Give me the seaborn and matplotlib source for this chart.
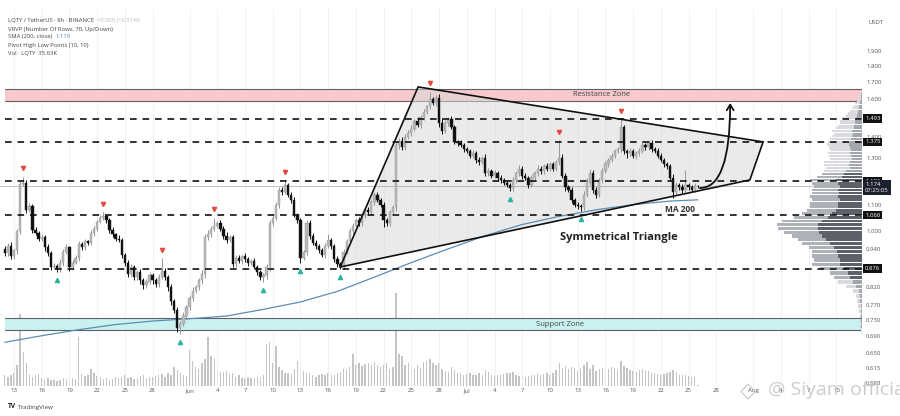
import numpy as np
import pandas as pd
import matplotlib
matplotlib.use("Agg")
import matplotlib.pyplot as plt
import matplotlib.transforms as mtransforms
from matplotlib.patches import Polygon, FancyArrowPatch
from matplotlib.path import Path
import seaborn as sns

# 8h candles, first one on 2025-05-12 00:00 (index 0)
start_day = pd.Timestamp("2025-05-12")
first_open = 0.940

closes = [
    0.925, 0.950, 0.915, 0.935, 1.000, 1.185, 1.190, 1.080, 1.095, 1.005,
    0.995, 0.975, 0.980, 0.945, 0.925, 0.880, 0.885, 0.875, 0.895, 0.930,
    0.945, 0.880, 0.895, 0.910, 0.955, 0.945, 0.965, 0.960, 0.995, 1.010,
    1.035, 1.050, 1.055, 1.040, 1.005, 0.990, 0.975, 0.970, 0.920, 0.895,
    0.860, 0.880, 0.850, 0.865, 0.840, 0.825, 0.835, 0.855, 0.840, 0.830,
    0.850, 0.870, 0.850, 0.820, 0.780, 0.755, 0.710, 0.720, 0.740, 0.765,
    0.790, 0.810, 0.820, 0.840, 0.860, 0.980, 0.990, 1.010, 1.020, 1.030,
    1.010, 0.985, 0.970, 0.980, 0.890, 0.910, 0.900, 0.915, 0.905, 0.895,
    0.900, 0.880, 0.865, 0.850, 0.855, 0.880, 1.030, 1.050, 1.100, 1.160,
    1.150, 1.180, 1.140, 1.120, 1.060, 1.040, 0.910, 0.930, 1.030, 0.985,
    0.960, 0.950, 0.935, 0.920, 0.950, 0.970, 0.950, 0.905, 0.890, 0.885,
    0.930, 0.965, 1.000, 1.020, 1.040, 1.030, 1.060, 1.080, 1.070, 1.110,
    1.140, 1.120, 1.100, 1.040, 1.030, 1.070, 1.090, 1.360, 1.380, 1.350,
    1.400, 1.420, 1.440, 1.480, 1.460, 1.500, 1.530, 1.560, 1.600, 1.580,
    1.610, 1.470, 1.430, 1.470, 1.490, 1.450, 1.375, 1.370, 1.360, 1.340,
    1.330, 1.310, 1.320, 1.290, 1.280, 1.300, 1.230, 1.240, 1.220, 1.230,
    1.210, 1.200, 1.190, 1.180, 1.165, 1.200, 1.230, 1.250, 1.220, 1.210,
    1.180, 1.210, 1.230, 1.250, 1.240, 1.260, 1.250, 1.270, 1.250, 1.280,
    1.300, 1.220, 1.170, 1.160, 1.120, 1.100, 1.095, 1.090, 1.140, 1.190,
    1.230, 1.160, 1.140, 1.200, 1.240, 1.270, 1.290, 1.310, 1.330, 1.340,
    1.450, 1.330, 1.320, 1.330, 1.310, 1.320, 1.330, 1.360, 1.350, 1.370,
    1.340, 1.330, 1.310, 1.290, 1.270, 1.260, 1.210, 1.150, 1.180, 1.170,
    1.160, 1.180, 1.170, 1.160, 1.175, 1.174,
]

# wick lengths beyond the body, in thousandths of a USDT
up_wick = [
    10, 8, 12, 6, 8, 10, 25, 12, 10, 8,
    10, 8, 12, 6, 10, 8, 10, 6, 12, 8,
    10, 6, 8, 10, 12, 8, 10, 6, 10, 8,
    8, 10, 15, 5, 8, 10, 6, 12, 8, 6,
    8, 10, 6, 8, 10, 6, 8, 10, 6, 8,
    10, 40, 8, 6, 8, 6, 10, 8, 10, 6,
    8, 10, 6, 8, 12, 10, 15, 10, 30, 8,
    10, 8, 12, 6, 8, 10, 8, 6, 10, 8,
    8, 10, 6, 8, 6, 10, 12, 15, 10, 12,
    10, 20, 8, 10, 12, 8, 10, 6, 12, 10,
    8, 10, 6, 8, 10, 20, 8, 6, 10, 8,
    10, 8, 12, 10, 8, 12, 10, 8, 12, 10,
    10, 12, 8, 10, 8, 10, 8, 15, 12, 20,
    15, 12, 18, 10, 20, 12, 15, 10, 45, 15,
    15, 20, 25, 18, 15, 20, 12, 10, 15, 10,
    12, 10, 14, 10, 12, 10, 15, 12, 10, 12,
    10, 12, 8, 10, 8, 12, 10, 15, 10, 12,
    10, 12, 10, 15, 12, 10, 14, 10, 12, 10,
    85, 15, 12, 10, 12, 8, 10, 8, 15, 20,
    18, 15, 12, 10, 12, 15, 10, 12, 10, 12,
    40, 12, 10, 15, 12, 10, 15, 20, 12, 15,
    12, 10, 15, 12, 10, 12, 10, 15, 12, 10,
    12, 65, 10, 8, 15, 6,
]
down_wick = [
    10, 8, 10, 8, 12, 10, 8, 12, 10, 12,
    8, 10, 8, 12, 10, 8, 6, 10, 8, 10,
    8, 10, 8, 6, 10, 8, 10, 8, 6, 10,
    8, 6, 10, 8, 12, 10, 8, 6, 10, 12,
    10, 8, 10, 8, 12, 10, 8, 6, 10, 8,
    8, 6, 10, 12, 10, 8, 10, 15, 6, 8,
    10, 8, 6, 8, 10, 12, 10, 8, 10, 6,
    8, 10, 12, 8, 10, 8, 6, 10, 8, 10,
    8, 6, 10, 8, 15, 10, 12, 10, 8, 12,
    10, 8, 10, 12, 8, 10, 15, 8, 10, 12,
    8, 10, 8, 6, 10, 8, 10, 8, 10, 9,
    10, 8, 10, 12, 8, 10, 12, 10, 8, 10,
    12, 10, 8, 25, 10, 12, 10, 15, 20, 15,
    12, 10, 15, 12, 10, 15, 12, 10, 15, 12,
    15, 20, 15, 12, 15, 10, 12, 15, 10, 12,
    10, 12, 10, 14, 12, 10, 12, 10, 12, 10,
    12, 10, 12, 10, 10, 12, 10, 12, 14, 10,
    12, 10, 12, 10, 14, 12, 10, 12, 10, 12,
    15, 12, 14, 10, 12, 10, 12, 15, 12, 10,
    12, 15, 12, 10, 12, 10, 12, 10, 12, 10,
    15, 12, 20, 12, 10, 15, 12, 10, 12, 15,
    12, 10, 12, 10, 12, 10, 15, 25, 12, 10,
    12, 10, 12, 10, 8, 6,
]

# volume in K LQTY
volume = [
    300, 250, 280, 350, 550, 1900, 900, 600, 300, 250,
    280, 320, 220, 180, 200, 150, 160, 130, 170, 200,
    180, 220, 200, 180, 1300, 320, 260, 300, 450, 330,
    260, 250, 180, 200, 160, 180, 230, 210, 250, 300,
    220, 240, 180, 220, 260, 300, 200, 250, 230, 260,
    280, 320, 240, 330, 300, 500, 420, 350, 300, 260,
    950, 650, 500, 450, 600, 700, 1300, 800, 750, 420,
    380, 380, 400, 320, 330, 250, 300, 220, 200, 240,
    200, 210, 230, 250, 300, 1100, 1150, 600, 1050, 500,
    420, 350, 330, 320, 450, 650, 500, 400, 350, 330,
    300, 250, 280, 320, 300, 350, 280, 300, 330, 380,
    450, 420, 500, 850, 550, 600, 520, 580, 600, 560,
    620, 550, 500, 560, 600, 450, 500, 2450, 850, 800,
    560, 600, 500, 450, 550, 480, 620, 650, 700, 600,
    560, 600, 450, 400, 380, 500, 420, 350, 330, 300,
    320, 350, 300, 280, 330, 300, 420, 380, 300, 260,
    280, 300, 320, 350, 330, 380, 300, 260, 280, 250,
    270, 300, 280, 330, 300, 320, 330, 300, 350, 420,
    600, 480, 520, 450, 500, 470, 400, 480, 560, 620,
    450, 560, 400, 450, 480, 420, 450, 500, 470, 430,
    650, 520, 480, 420, 400, 380, 420, 450, 430, 400,
    350, 330, 320, 300, 320, 350, 380, 420, 380, 300,
    280, 300, 260, 250, 240, 36,
]

# SMA(200) at a few candles
ma_idx = [0, 12, 24, 36, 48, 60, 72, 84, 96, 108, 120, 132, 144, 156, 168, 180, 192, 204, 216, 225]
ma_val = [0.674, 0.690, 0.705, 0.718, 0.727, 0.733, 0.740, 0.758, 0.778, 0.808, 0.850, 0.895,
          0.940, 0.985, 1.025, 1.055, 1.080, 1.100, 1.114, 1.119]

pivot_high_idx = [6, 32, 51, 68, 91, 138, 180, 200]
pivot_low_idx = [17, 57, 84, 96, 109, 164, 187]

levels = [1.493, 1.375, 1.196, 1.060, 0.876]
last_price = 1.174
resistance_zone = (1.59, 1.66)
support_zone = (0.704, 0.735)

# triangle drawing (candle index, price)
triangle = [(108.9, 0.881), (134.2, 1.672), (246.2, 1.375), (241.9, 1.201)]

# visible range volume profile, 70 rows
vp_low = 0.695
vp_step = 0.0135
vp_total = [
    1, 2, 3, 2, 3, 4, 5, 6, 9, 16,
    24, 28, 32, 42, 50, 48, 50, 50, 53, 60,
    64, 70, 78, 84, 85, 80, 68, 60, 55, 52,
    52, 50, 52, 50, 50, 48, 50, 52, 45, 40,
    38, 36, 38, 38, 32, 33, 34, 32, 33, 35,
    34, 32, 30, 28, 30, 26, 24, 22, 22, 20,
    16, 14, 12, 10, 8, 7, 5, 4, 3, 2,
]
vp_dark = [
    0, 1, 1, 1, 1, 1, 2, 2, 3, 6,
    9, 12, 14, 18, 22, 22, 24, 25, 28, 32,
    36, 40, 43, 44, 44, 40, 34, 30, 26, 24,
    24, 22, 24, 23, 24, 22, 24, 26, 20, 18,
    16, 12, 13, 12, 10, 11, 12, 11, 12, 13,
    12, 11, 10, 9, 10, 8, 8, 7, 7, 6,
    5, 4, 4, 3, 3, 2, 2, 1, 1, 1,
]
value_area = (0.85, 1.24)

price_ticks = [1.900, 1.800, 1.700, 1.600, 1.400, 1.300, 1.100, 1.000, 0.940,
               0.820, 0.770, 0.730, 0.690, 0.650, 0.615, 0.583]
tick_dates = ["2025-05-13", "2025-05-16", "2025-05-19", "2025-05-22", "2025-05-25", "2025-05-28",
              "2025-06-01", "2025-06-04", "2025-06-07", "2025-06-10", "2025-06-13", "2025-06-16",
              "2025-06-19", "2025-06-22", "2025-06-25", "2025-06-28",
              "2025-07-01", "2025-07-04", "2025-07-07", "2025-07-10", "2025-07-13", "2025-07-16",
              "2025-07-19", "2025-07-22", "2025-07-25", "2025-07-28",
              "2025-08-01", "2025-08-04", "2025-08-07", "2025-08-10"]


def main():
    sns.set_theme(style="white")
    plt.rcParams["font.family"] = ["Open Sans", "DejaVu Sans"]

    c = np.array(closes)
    o = np.array([first_open] + closes[:-1])
    hi = np.maximum(o, c) + np.array(up_wick) / 1000
    lo = np.minimum(o, c) - np.array(down_wick) / 1000
    x = np.arange(len(c))
    up = c >= o

    fig = plt.figure(figsize=(9, 4.16), dpi=100)
    ax = fig.add_axes([0, 30 / 416, 862 / 900, 378 / 416])
    ax_v = ax.twinx()
    ax_p = ax.twiny()
    ax_v.set_zorder(0)
    ax.set_zorder(1)
    ax_p.set_zorder(2)
    ax.patch.set_visible(False)
    ax_p.patch.set_visible(False)

    ax.set_yscale("log")
    ax.set_ylim(0.577, 2.214)
    ax.set_xlim(-1.54, 278.3)

    # volume
    ax_v.bar(x, volume, width=0.45, color="#c4c4c4", linewidth=0)
    ax_v.set_ylim(0, max(volume) / 0.246)
    ax_v.axis("off")

    # zones
    for (z0, z1), fc in [(resistance_zone, "#f8c9cc"), (support_zone, "#c9f1f0")]:
        ax.axhspan(z0, z1, xmin=0.006, color=fc, lw=0, zorder=0.5)
        for z in (z0, z1):
            ax.axhline(z, xmin=0.006, color="#5c6268", lw=0.8, zorder=0.6)
    ax.text(193.6, 1.625, "Resistance Zone", fontsize=5.5, color="#444", ha="center", va="center", zorder=5)
    ax.text(180.3, 0.719, "Support Zone", fontsize=5.5, color="#444", ha="center", va="center", zorder=5)

    # grid
    tds = pd.to_datetime(tick_dates)
    tpos = [(d - start_day) / pd.Timedelta(hours=8) for d in tds]
    tlab = [d.strftime("%b") if d.day == 1 else str(d.day) for d in tds]
    for p in tpos:
        ax.axvline(p, color="#efefef", lw=0.6, zorder=0.2)

    # triangle
    ax.add_patch(Polygon(triangle, closed=True, fc="#d9d9d9", alpha=0.55, ec="none", zorder=1))
    tri_x = [p[0] for p in triangle] + [triangle[0][0]]
    tri_y = [p[1] for p in triangle] + [triangle[0][1]]
    ax.plot(tri_x, tri_y, color="#111", lw=1.2, zorder=4, solid_joinstyle="miter")

    # current price line
    ax.axhline(last_price, color="#a5a5a5", lw=0.5, zorder=1.5)

    # MA 200
    sns.lineplot(x=ma_idx, y=ma_val, ax=ax, color="#5b8db3", lw=0.9, zorder=2.5)
    ax.set_xlabel("")
    ax.set_ylabel("")

    # candles
    wick_col = np.where(up, "#969696", "#111111")
    body_col = np.where(up, "#b9b9b9", "#111111")
    ax.vlines(x, lo, hi, colors=wick_col, lw=0.7, zorder=3)
    bot = np.minimum(o, c)
    top = np.maximum(o, c)
    ax.bar(x, np.maximum(top - bot, 0.003), bottom=bot, width=0.74, color=body_col,
           edgecolor=wick_col, linewidth=0.3, zorder=3.2)

    # pivots
    ax.plot(x[pivot_high_idx], hi[pivot_high_idx] * 1.03, "v", color="#e5483f", ms=3, zorder=4)
    ax.plot(x[pivot_low_idx], lo[pivot_low_idx] / 1.03, "^", color="#2bb3a0", ms=3, zorder=4)

    # arrow
    arrow_path = Path([(225.7, 1.167), (235.5, 1.167), (235.5, 1.579)],
                      [Path.MOVETO, Path.CURVE3, Path.CURVE3])
    ax.add_patch(FancyArrowPatch(path=arrow_path, arrowstyle="->,head_length=4,head_width=2.5",
                                 color="#111", lw=1.3, zorder=5))

    ax.text(199.4, 0.977, "Symmetrical Triangle", fontsize=8, fontweight="bold",
            color="#222", ha="center", va="center", zorder=5)
    ax.text(219.2, 1.083, "MA 200", fontsize=6, fontweight="bold", color="#333",
            ha="center", va="center", zorder=5)

    # volume profile
    ax_p.set_xlim(862, 0)
    bottoms = [vp_low + k * vp_step for k in range(len(vp_total))]
    in_va = [(b + vp_step / 2 >= value_area[0]) and (b + vp_step / 2 <= value_area[1]) for b in bottoms]
    light = ["#aeb1b8" if v else "#d8dadd" for v in in_va]
    dark = ["#5d6169" if v else "#a3a6ac" for v in in_va]
    ax_p.barh(bottoms, vp_total, height=vp_step * 0.8, align="edge", color=light, lw=0, zorder=1)
    ax_p.barh(bottoms, vp_dark, height=vp_step * 0.8, align="edge", color=dark, lw=0, zorder=1.1)
    ax_p.set_xticks([])
    for lv in levels:
        ax_p.axhline(lv, xmin=0.006, color="#111", lw=1.2, ls=(0, (4, 3.5)), zorder=3)

    # axes
    ax.set_xticks(tpos)
    ax.set_xticklabels(tlab)
    ax.tick_params(axis="x", length=0, labelsize=4.3, labelcolor="#555", pad=1.5)
    ax.yaxis.tick_right()
    ax.yaxis.set_major_locator(matplotlib.ticker.FixedLocator(price_ticks))
    ax.yaxis.set_minor_locator(matplotlib.ticker.NullLocator())
    ax.set_yticklabels([f"{p:.3f}" for p in price_ticks])
    ax.tick_params(axis="y", length=0, labelsize=4.3, labelcolor="#555", pad=3)
    for a in (ax, ax_p, ax_v):
        for s in a.spines.values():
            s.set_visible(False)
    ax_p.tick_params(axis="y", length=0)

    trans = mtransforms.blended_transform_factory(ax.transAxes, ax.transData)
    for lv in levels:
        ax.text(1.0035, lv, f"{lv:.3f}", transform=trans, fontsize=4.3, color="white",
                ha="left", va="center", clip_on=False, zorder=6,
                bbox=dict(boxstyle="square,pad=0.3", fc="#111", ec="none"))
    ax.annotate(f"{last_price:.3f}\n07:25:05", xy=(1.0035, last_price), xycoords=trans,
                xytext=(0, 3), textcoords="offset points", fontsize=4.3, color="white",
                ha="left", va="top", linespacing=1.2, annotation_clip=False, zorder=6,
                bbox=dict(boxstyle="square,pad=0.3", fc="#1b1f2e", ec="none"))

    # header / legend
    fig.text(876 / 900, 1 - 22 / 416, "USDT", fontsize=4.3, color="#555", ha="center", va="center")
    legend = [
        [("LQTY / TetherUS · 8h · BINANCE  ", "#444"), ("+0.006 (+0.51%)", "#b8b8b8")],
        [("VRVP (Number Of Rows, 70, Up/Down)", "#444")],
        [("SMA (200, close)  ", "#444"), ("1.119", "#4a7bc4")],
        [("Pivot High Low Points (10, 10)", "#444")],
        [("Vol · LQTY  35.63K", "#444")],
    ]
    fig.canvas.draw()
    r = fig.canvas.get_renderer()
    for row, yy in zip(legend, [20.7, 29, 36.9, 45, 53.3]):
        xx = 8 / 900
        for txt, col in row:
            t = fig.text(xx, 1 - yy / 416, txt, fontsize=4.2, color=col, ha="left", va="center")
            xx += t.get_window_extent(r).width / fig.bbox.width

    fig.text(8 / 900, 1 - 407 / 416, "TV", fontsize=4.8, fontweight="bold", color="#222",
             ha="left", va="center")
    fig.text(18 / 900, 1 - 407 / 416, "TradingView", fontsize=4.5, color="#444",
             ha="left", va="center")
    # watermark, drawn over the time axis as in the screenshot
    fig.text(748 / 900, 1 - 392 / 416, "◇", fontsize=15, color="#c4c4c4", ha="center", va="center")
    fig.text(768 / 900, 1 - 390 / 416, "@ Siyam official", fontsize=14, color="#c4c4c4",
             alpha=0.85, ha="left", va="center")

    fig.savefig("out.png", dpi=100, facecolor="white")


if __name__ == "__main__":
    main()
